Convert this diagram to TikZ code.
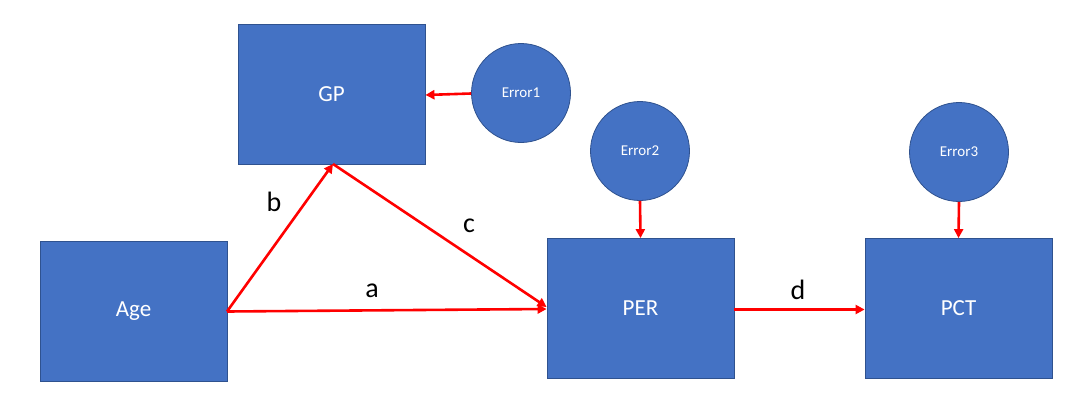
\documentclass[tikz,border=0pt]{standalone}
\usepackage{fontspec}
\setmainfont{Carlito}
\usetikzlibrary{arrows.meta}
\definecolor{boxblue}{HTML}{4472C4}
\definecolor{edgeblue}{HTML}{2F528F}
\definecolor{arrred}{HTML}{FF0000}
\tikzset{
  varbox/.style={rectangle, fill=boxblue, draw=edgeblue, line width=0.8pt, minimum width=187pt, minimum height=140pt, inner sep=0pt, text=white, font=\fontsize{23}{27}\selectfont},
  errnode/.style={circle, fill=boxblue, draw=edgeblue, line width=0.8pt, minimum size=99pt, inner sep=0pt, text=white, font=\fontsize{15}{18}\selectfont},
  path/.style={draw=arrred, line width=2.6pt, -{Triangle[length=9pt,width=9pt]}},
  lbl/.style={font=\fontsize{28}{32}\selectfont, text=black, inner sep=0pt}
}
\begin{document}
\begin{tikzpicture}[x=1pt,y=1pt]
\useasboundingbox (0,0) rectangle (1086,-410);
\node[varbox] (gp) at (331.5,-94) {GP};
\node[varbox] (age) at (133.5,-311) {Age};
\node[varbox] (per) at (640.5,-308.5) {PER};
\node[varbox] (pct) at (958.5,-308.5) {PCT};
\node[errnode] (e1) at (521,-93) {Error1};
\node[errnode] (e2) at (640,-151) {Error2};
\node[errnode] (e3) at (959,-152) {Error3};
\coordinate (ageR) at (227,-311.5);
\coordinate (gpB) at (333,-164);
\draw[path] (e1.west |- 0,-93.5) -- (gp.east |- 0,-95);
\draw[path] (ageR) -- (gpB);
\draw[path] (gpB) -- (per.west |- 0,-307);
\draw[path] (ageR) -- (per.west |- 0,-309);
\draw[path] (e2.south) -- (per.north);
\draw[path] (e3.south) -- (pct.north);
\draw[path] (per.east |- 0,-309.5) -- (pct.west |- 0,-309.5);
\node[lbl] (lb) at (274,-202) {b};
\node[lbl] (lc) at (469,-226) {c};
\node[lbl] (la) at (372,-291) {a};
\node[lbl] (ld) at (798,-290) {d};
\end{tikzpicture}
\end{document}
